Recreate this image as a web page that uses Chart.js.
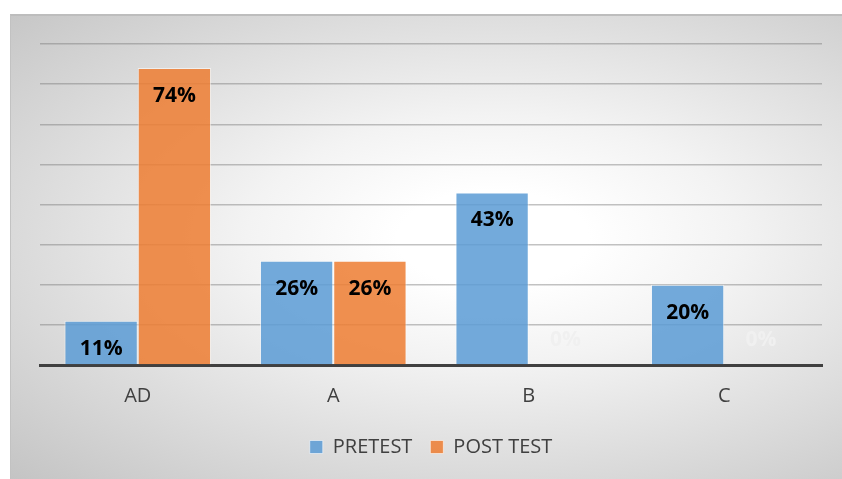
<!DOCTYPE html>
<html>
<head>
<meta charset="utf-8">
<script src="https://cdn.jsdelivr.net/npm/chart.js@4/dist/chart.umd.min.js"></script>
<style>
  html, body { margin: 0; padding: 0; background: #ffffff; }
  body { width: 842px; height: 479px; position: relative; overflow: hidden; }
  #frame {
    position: absolute; left: 10px; top: 14px; width: 832px; height: 465px;
    box-sizing: border-box;
    border-top: 2px solid #bdbdbd; border-left: 1px solid #c2c2c2;
    background: radial-gradient(ellipse farthest-corner at 58% 48%, #ffffff 14%, #f3f3f3 36%, #c4c4c4 100%);
  }
  #wrap { position: absolute; left: -1px; top: -2px; width: 832px; height: 465px; }
</style>
</head>
<body>
<div id="frame"><div id="wrap"><canvas id="chart"></canvas></div></div>
<script>
// Score levels and the share of learners in each, before and after
const categories = ['AD', 'A', 'B', 'C'];
const pretest = [11, 26, 43, 20];
const postTest = [74, 26, 0, 0];
const seriesNames = ['PRETEST', 'POST TEST'];

const FONT = "'Open Sans', 'Liberation Sans', sans-serif";

// Percentage label inside the top of each bar
const barLabels = {
  id: 'barLabels',
  afterDatasetsDraw(chart) {
    const ctx = chart.ctx;
    ctx.save();
    ctx.font = "bold 21px " + FONT;
    ctx.textAlign = 'center';
    ctx.textBaseline = 'middle';
    chart.data.datasets.forEach((ds, di) => {
      chart.getDatasetMeta(di).data.forEach((bar, i) => {
        const v = ds.data[i];
        let y;
        if (v === 0) {
          ctx.fillStyle = '#f0f0f0';
          y = bar.base - 25;
        } else {
          ctx.fillStyle = '#000000';
          y = bar.y + 28;
        }
        ctx.fillText(v + '%', bar.x, y);
      });
    });
    ctx.restore();
  }
};

new Chart(document.getElementById('chart'), {
  type: 'bar',
  data: {
    labels: categories,
    datasets: [
      {
        label: seriesNames[0], data: pretest,
        backgroundColor: 'rgba(91,155,213,0.85)',
        borderColor: 'rgba(255,255,255,0.55)', borderWidth: 1,
        categoryPercentage: 0.75, barPercentage: 1.0
      },
      {
        label: seriesNames[1], data: postTest,
        backgroundColor: 'rgba(237,125,49,0.85)',
        borderColor: 'rgba(255,255,255,0.55)', borderWidth: 1,
        categoryPercentage: 0.75, barPercentage: 1.0
      }
    ]
  },
  options: {
    responsive: true,
    maintainAspectRatio: false,
    animation: false,
    layout: { padding: { left: 30, right: 20, top: 30, bottom: 12 } },
    scales: {
      x: {
        grid: { display: false, drawTicks: false },
        border: { display: true, color: '#404040', width: 3 },
        ticks: { color: '#404040', font: { family: FONT, size: 20 }, padding: 19 },
        afterFit(scale) { scale.height = 54; }
      },
      y: {
        min: 0, max: 80,
        ticks: { display: false, stepSize: 10 },
        grid: { color: 'rgba(120,120,120,0.45)', lineWidth: 1.5, drawTicks: false },
        border: { display: false },
        afterFit(scale) { scale.width = 0; }
      }
    },
    plugins: {
      legend: {
        position: 'bottom',
        labels: {
          color: '#404040',
          font: { family: FONT, size: 20 },
          boxWidth: 13, boxHeight: 13, padding: 18
        }
      },
      tooltip: { enabled: false }
    }
  },
  plugins: [barLabels]
});
</script>
</body>
</html>
